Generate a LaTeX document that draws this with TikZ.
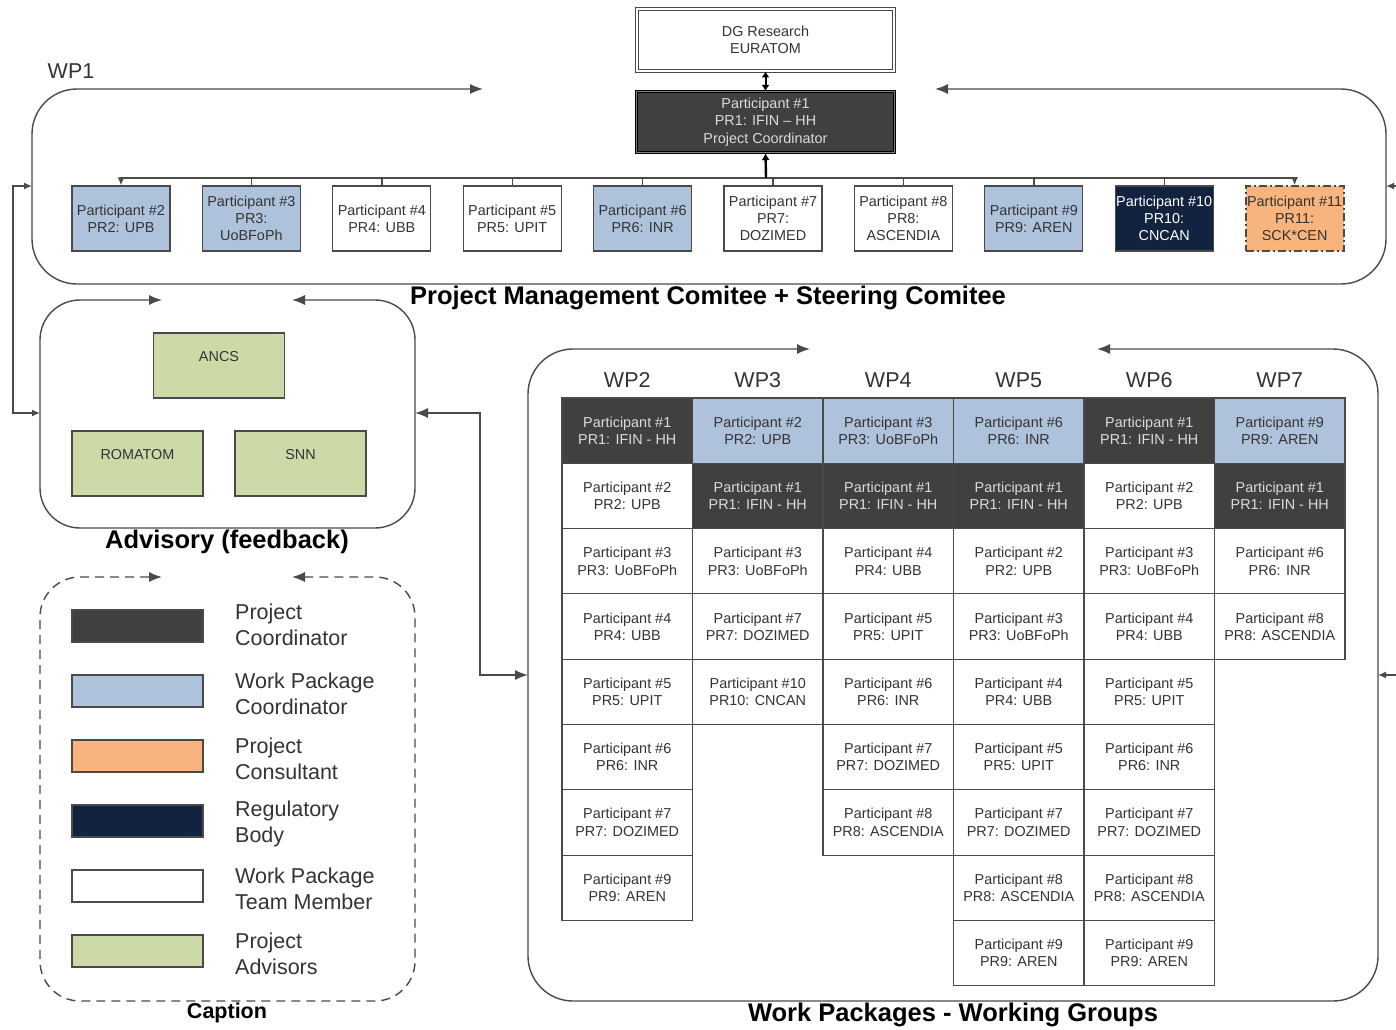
\documentclass[tikz,border=0pt]{standalone}
\usepackage{fontspec}
\setmainfont{Liberation Sans}
\usetikzlibrary{arrows.meta}
\definecolor{pcdark}{HTML}{404040}
\definecolor{wpblue}{HTML}{AFC2DB}
\definecolor{consult}{HTML}{F7B47D}
\definecolor{regnavy}{HTML}{12233F}
\definecolor{advgreen}{HTML}{CCDAA8}
\definecolor{edgegray}{HTML}{4A4A4A}
\definecolor{txtgray}{HTML}{333333}
\newcommand\fsmall{\fontsize{14.4}{17.3}\selectfont}
\newcommand\fmid{\fontsize{21.5}{26}\selectfont}
\newcommand\fbig{\fontsize{25.5}{30}\selectfont\bfseries}
\newcommand\wpcell[6]{\node[cell,#4] (#1) at ({627.25+130.5*#2},{430.65+65.3*#3}) {Participant \##5\\#6};}
\begin{document}
\begin{tikzpicture}[x=1pt,y=-1pt,
  BigT/.tip={Latex[length=13pt,width=10pt]},
  SmT/.tip={Latex[length=8pt,width=7pt]},
  boxline/.style={draw=edgegray, line width=1.4pt},
  conn/.style={draw=edgegray, line width=1.4pt},
  pbox/.style={draw=edgegray, line width=1.3pt, minimum width=98pt, minimum height=65pt, inner sep=0pt, align=center, font=\fsmall, text=txtgray},
  cell/.style={draw=edgegray, line width=1.1pt, minimum width=130.5pt, minimum height=65.3pt, inner sep=0pt, align=center, font=\fsmall, text=txtgray},
  pcf/.style={fill=pcdark, text=white!86!black},
  wpcf/.style={fill=wpblue},
  tmf/.style={fill=white},
  consf/.style={fill=consult, draw=edgegray, dash pattern=on 8pt off 3pt on 2pt off 3pt, line width=1.8pt},
  regf/.style={fill=regnavy, text=white},
  advbox/.style={draw=edgegray, line width=1.3pt, fill=advgreen, minimum width=131pt, minimum height=65pt, inner sep=0pt, align=center, font=\fsmall, text=txtgray},
  swatch/.style={draw=edgegray, line width=1.3pt, minimum width=131pt, minimum height=32pt, inner sep=0pt},
  legtext/.style={anchor=west, align=left, font=\fmid, text=txtgray, inner sep=0pt},
  title/.style={font=\fbig, text=black, inner sep=0pt},
  wphead/.style={font=\fmid, text=txtgray, inner sep=0pt}
]
\useasboundingbox (0,0) rectangle (1396,1029);

% ---------- WP1 ----------
\draw[boxline, BigT-BigT, rounded corners=45pt] (935,89) -- (1386,89) -- (1386,284) -- (32,284) -- (32,89) -- (483,89);
\node[wphead] (wp1lbl) at (71,71) {WP1};
\node[title] (pmtitle) at (708,298) {Project Management Comitee + Steering Comitee};

\node[draw=edgegray, line width=0.9pt, double=white, double distance=2.2pt, fill=white, minimum width=257pt, minimum height=62pt, inner sep=0pt, align=center, font=\fsmall, text=txtgray] (dg) at (765.5,40) {DG Research\\EURATOM};
\node[draw=black, line width=1.1pt, double=gray, double distance=0.9pt, fill=pcdark, minimum width=258pt, minimum height=61pt, inner sep=0pt, align=center, font=\fsmall, text=white!86!black] (coord) at (765.5,122) {Participant \#1\\PR1: IFIN -- HH\\Project Coordinator};
\draw[draw=black, line width=2pt, {Latex[length=6pt,width=8pt]}-{Latex[length=6pt,width=8pt]}] (coord.north) -- (dg.south);

\node[pbox,wpcf] (p2) at (121,218.5) {Participant \#2\\PR2: UPB};
\node[pbox,wpcf] (p3) at (251.4,218.5) {Participant \#3\\PR3:\\UoBFoPh};
\node[pbox,tmf] (p4) at (381.8,218.5) {Participant \#4\\PR4: UBB};
\node[pbox,tmf] (p5) at (512.2,218.5) {Participant \#5\\PR5: UPIT};
\node[pbox,wpcf] (p6) at (642.6,218.5) {Participant \#6\\PR6: INR};
\node[pbox,tmf] (p7) at (773,218.5) {Participant \#7\\PR7:\\DOZIMED};
\node[pbox,tmf] (p8) at (903.4,218.5) {Participant \#8\\PR8:\\ASCENDIA};
\node[pbox,wpcf] (p9) at (1033.8,218.5) {Participant \#9\\PR9: AREN};
\node[pbox,regf] (p10) at (1164.2,218.5) {Participant \#10\\PR10:\\CNCAN};
\node[pbox,consf] (p11) at (1294.6,218.5) {Participant \#11\\PR11:\\SCK*CEN};

\coordinate (bus) at (766,178);
\draw[conn, SmT-SmT] (p2.north) -- (p2.north |- bus) -- (p11.north |- bus) -- (p11.north);
\foreach \k in {3,...,10} { \draw[conn] (p\k.north) -- (p\k.north |- bus); }
\draw[draw=black, line width=2.4pt, -{Latex[length=7pt,width=8pt]}] (bus) -- (coord.south);

% ---------- Advisory ----------
\draw[boxline, BigT-BigT, rounded corners=40pt] (292,300) -- (415,300) -- (415,528) -- (40,528) -- (40,300) -- (162,300);
\node[advbox] (ancs) at (219,365.5) {ANCS\\~};
\node[advbox] (romatom) at (137.5,463.5) {ROMATOM\\~};
\node[advbox] (snn) at (300.5,463.5) {SNN\\~};
\node[title] (advtitle) at (227,542) {Advisory (feedback)};

% ---------- Caption ----------
\draw[boxline, dashed, dash pattern=on 9pt off 6pt, BigT-BigT, rounded corners=40pt] (292,577) -- (415,577) -- (415,1001) -- (40,1001) -- (40,577) -- (162,577);
\node[swatch, fill=pcdark] (sw1) at (137.5,626) {};
\node[swatch, fill=wpblue] (sw2) at (137.5,691) {};
\node[swatch, fill=consult] (sw3) at (137.5,756) {};
\node[swatch, fill=regnavy] (sw4) at (137.5,821) {};
\node[swatch, fill=white] (sw5) at (137.5,886) {};
\node[swatch, fill=advgreen] (sw6) at (137.5,951) {};
\node[legtext] (lt1) at (235,625) {Project\\Coordinator};
\node[legtext] (lt2) at (235,694) {Work Package\\Coordinator};
\node[legtext] (lt3) at (235,759) {Project\\Consultant};
\node[legtext] (lt4) at (235,824) {Regulatory\\Body};
\node[legtext] (lt5) at (235,889) {Work Package\\Team Member};
\node[legtext] (lt6) at (235,954) {Project\\Advisors};
\node[title, font=\fontsize{21.5}{26}\selectfont\bfseries] (captitle) at (227,1013) {Caption};

% ---------- Work packages ----------
\draw[boxline, BigT-BigT, rounded corners=45pt] (1097,349) -- (1378,349) -- (1378,1001) -- (528,1001) -- (528,349) -- (810,349);
\node[title] (wptitle) at (953,1015) {Work Packages - Working Groups};

\node[wphead] (h2) at (627.25,380) {WP2};
\node[wphead] (h3) at (757.75,380) {WP3};
\node[wphead] (h4) at (888.25,380) {WP4};
\node[wphead] (h5) at (1018.75,380) {WP5};
\node[wphead] (h6) at (1149.25,380) {WP6};
\node[wphead] (h7) at (1279.75,380) {WP7};

% WP2
\wpcell{a0}{0}{0}{pcf}{1}{PR1: IFIN - HH}
\wpcell{a1}{0}{1}{tmf}{2}{PR2: UPB}
\wpcell{a2}{0}{2}{tmf}{3}{PR3: UoBFoPh}
\wpcell{a3}{0}{3}{tmf}{4}{PR4: UBB}
\wpcell{a4}{0}{4}{tmf}{5}{PR5: UPIT}
\wpcell{a5}{0}{5}{tmf}{6}{PR6: INR}
\wpcell{a6}{0}{6}{tmf}{7}{PR7: DOZIMED}
\wpcell{a7}{0}{7}{tmf}{9}{PR9: AREN}
% WP3
\wpcell{b0}{1}{0}{wpcf}{2}{PR2: UPB}
\wpcell{b1}{1}{1}{pcf}{1}{PR1: IFIN - HH}
\wpcell{b2}{1}{2}{tmf}{3}{PR3: UoBFoPh}
\wpcell{b3}{1}{3}{tmf}{7}{PR7: DOZIMED}
\wpcell{b4}{1}{4}{tmf}{10}{PR10: CNCAN}
% WP4
\wpcell{c0}{2}{0}{wpcf}{3}{PR3: UoBFoPh}
\wpcell{c1}{2}{1}{pcf}{1}{PR1: IFIN - HH}
\wpcell{c2}{2}{2}{tmf}{4}{PR4: UBB}
\wpcell{c3}{2}{3}{tmf}{5}{PR5: UPIT}
\wpcell{c4}{2}{4}{tmf}{6}{PR6: INR}
\wpcell{c5}{2}{5}{tmf}{7}{PR7: DOZIMED}
\wpcell{c6}{2}{6}{tmf}{8}{PR8: ASCENDIA}
% WP5
\wpcell{d0}{3}{0}{wpcf}{6}{PR6: INR}
\wpcell{d1}{3}{1}{pcf}{1}{PR1: IFIN - HH}
\wpcell{d2}{3}{2}{tmf}{2}{PR2: UPB}
\wpcell{d3}{3}{3}{tmf}{3}{PR3: UoBFoPh}
\wpcell{d4}{3}{4}{tmf}{4}{PR4: UBB}
\wpcell{d5}{3}{5}{tmf}{5}{PR5: UPIT}
\wpcell{d6}{3}{6}{tmf}{7}{PR7: DOZIMED}
\wpcell{d7}{3}{7}{tmf}{8}{PR8: ASCENDIA}
\wpcell{d8}{3}{8}{tmf}{9}{PR9: AREN}
% WP6
\wpcell{e0}{4}{0}{pcf}{1}{PR1: IFIN - HH}
\wpcell{e1}{4}{1}{tmf}{2}{PR2: UPB}
\wpcell{e2}{4}{2}{tmf}{3}{PR3: UoBFoPh}
\wpcell{e3}{4}{3}{tmf}{4}{PR4: UBB}
\wpcell{e4}{4}{4}{tmf}{5}{PR5: UPIT}
\wpcell{e5}{4}{5}{tmf}{6}{PR6: INR}
\wpcell{e6}{4}{6}{tmf}{7}{PR7: DOZIMED}
\wpcell{e7}{4}{7}{tmf}{8}{PR8: ASCENDIA}
\wpcell{e8}{4}{8}{tmf}{9}{PR9: AREN}
% WP7
\wpcell{f0}{5}{0}{wpcf}{9}{PR9: AREN}
\wpcell{f1}{5}{1}{pcf}{1}{PR1: IFIN - HH}
\wpcell{f2}{5}{2}{tmf}{6}{PR6: INR}
\wpcell{f3}{5}{3}{tmf}{8}{PR8: ASCENDIA}

% ---------- connectors between groups ----------
\coordinate (wp1L) at (32,186);
\coordinate (advL) at (40,413);
\coordinate (advR) at (415,413);
\coordinate (wpL) at (528,675);
\coordinate (wp1R) at (1386,186);
\coordinate (edgeA) at (1396,186);
\coordinate (wpR) at (1378,675);
\coordinate (edgeB) at (1396,675);
\draw[conn, SmT-SmT] (wp1L) -- ++(-19,0) |- (advL);
\draw[conn, BigT-BigT] (advR) -- ++(65,0) |- (wpL);
\draw[conn, -SmT] (edgeA) -- (wp1R);
\draw[conn, -SmT] (edgeB) -- (wpR);
\end{tikzpicture}
\end{document}
